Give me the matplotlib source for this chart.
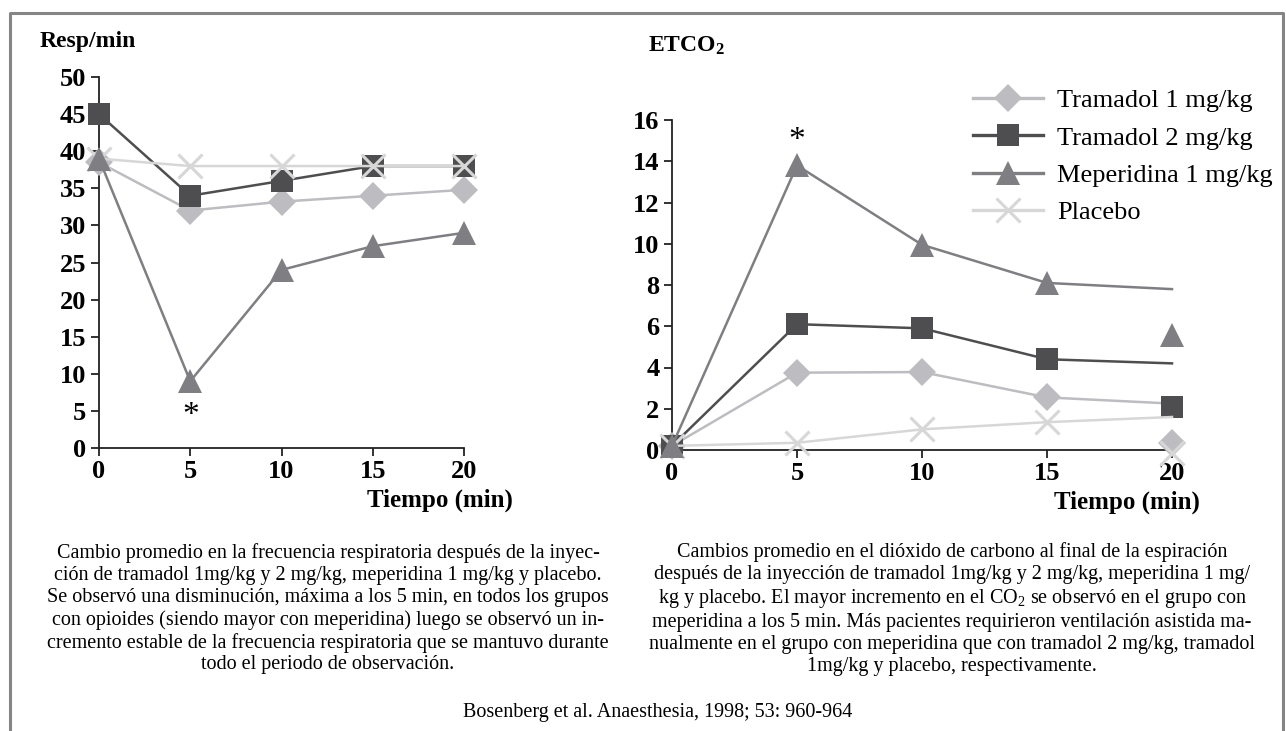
import matplotlib
matplotlib.use("Agg")
import matplotlib.pyplot as plt
from matplotlib.lines import Line2D

plt.rcParams['font.family'] = ['Liberation Serif', 'DejaVu Serif']
plt.rcParams['mathtext.fontset'] = 'custom'
plt.rcParams['mathtext.rm'] = 'Liberation Serif'
plt.rcParams['mathtext.bf'] = 'Liberation Serif:bold'
plt.rcParams['mathtext.it'] = 'Liberation Serif:italic'

# ---------------- data ----------------
tiempo = [0, 5, 10, 15, 20]
x_ticks = [0, 5, 10, 15, 20]
series = ["Tramadol 1 mg/kg", "Tramadol 2 mg/kg", "Meperidina 1 mg/kg", "Placebo"]

# Respiratory rate (Resp/min)
resp_tram1 = [38.5, 32, 33.2, 34, 34.8]
resp_tram2 = [45, 34, 36, 38, 38]
resp_mep = [39, 9, 24, 27.2, 29]
resp_placebo = [39, 38, 38, 38, 38]
resp_yticks = [0, 5, 10, 15, 20, 25, 30, 35, 40, 45, 50]

# ETCO2 (lines) and the separate markers drawn at 20 min
etco_tram1 = [0.2, 3.75, 3.78, 2.55, 2.25]
etco_tram2 = [0.2, 6.1, 5.9, 4.4, 4.2]
etco_mep = [0.2, 13.8, 9.95, 8.1, 7.8]
etco_placebo = [0.2, 0.35, 1.0, 1.35, 1.6]
etco_end_markers = [0.35, 2.1, 5.6, -0.15]   # tram1, tram2, mep, placebo at t=20
etco_yticks = [0, 2, 4, 6, 8, 10, 12, 14, 16]

caption_left = ("Cambio promedio en la frecuencia respiratoria después de la inyec-\n"
                "ción de tramadol 1mg/kg y 2 mg/kg, meperidina 1 mg/kg y placebo.\n"
                "Se observó una disminución, máxima a los 5 min, en todos los grupos\n"
                "con opioides (siendo mayor con meperidina) luego se observó un in-\n"
                "cremento estable de la frecuencia respiratoria que se mantuvo durante\n"
                "todo el periodo de observación.")
caption_right = ("Cambios promedio en el dióxido de carbono al final de la espiración\n"
                 "después de la inyección de tramadol 1mg/kg y 2 mg/kg, meperidina 1 mg/\n"
                 "kg y placebo. El mayor incremento en el CO$_2$ se observó en el grupo con\n"
                 "meperidina a los 5 min. Más pacientes requirieron ventilación asistida ma-\n"
                 "nualmente en el grupo con meperidina que con tramadol 2 mg/kg, tramadol\n"
                 "1mg/kg y placebo, respectivamente.")
source = "Bosenberg et al. Anaesthesia, 1998; 53: 960-964"

# ---------------- styles ----------------
c_t1 = "#bdbdc1"
c_t2 = "#4e4e50"
c_mep = "#7f7f83"
c_pl = "#d7d7d7"
styles = [
    dict(color=c_t1, marker="D", ms=14, zorder=3),
    dict(color=c_t2, marker="s", ms=16, zorder=4),
    dict(color=c_mep, marker="^", ms=17, zorder=6),
    dict(color=c_pl, marker="x", ms=17, zorder=5),
]
LW = 1.8

W, H = 1286, 731
fig = plt.figure(figsize=(W / 100, H / 100), dpi=100)

def fx(px):
    return px / W

def fy(py):
    return 1 - py / H

# outer frame (open at bottom)
fig.add_artist(Line2D([fx(10), fx(10), fx(1283), fx(1283)],
                      [fy(731), fy(13), fy(13), fy(731)],
                      color="#858585", lw=2.2, transform=fig.transFigure))

def style_axes(ax, yticks, ylim):
    ax.set_xlim(0, 20)
    ax.set_ylim(*ylim)
    ax.set_xticks(x_ticks)
    ax.set_yticks(yticks)
    for s in ["top", "right"]:
        ax.spines[s].set_visible(False)
    for s in ["left", "bottom"]:
        ax.spines[s].set_linewidth(1.3)
        ax.spines[s].set_color("#222222")
    ax.tick_params(direction="out", length=6, width=1.3, color="#222222",
                   labelsize=19, pad=3)
    for lab in ax.get_xticklabels() + ax.get_yticklabels():
        lab.set_fontweight("bold")
    ax.patch.set_alpha(0)

# ---------------- left chart ----------------
ax1 = fig.add_axes([fx(99), fy(448), fx(464) - fx(99), fy(77) - fy(448)])
style_axes(ax1, resp_yticks, (0, 50))
for vals, st in zip([resp_tram1, resp_tram2, resp_mep, resp_placebo], styles):
    mew = 2.2 if st["marker"] == "x" else 0
    ax1.plot(tiempo, vals, color=st["color"], lw=LW, marker=st["marker"],
             ms=st["ms"], mew=mew, mec=st["color"], mfc=st["color"],
             zorder=st["zorder"], clip_on=False)
ax1.text(5, 4.4, "*", fontsize=24, ha="center", va="center")
fig.text(fx(40), fy(42), "Resp/min", fontsize=17, fontweight="bold",
         ha="left", va="center")
fig.text(fx(513), fy(500), "Tiempo (min)", fontsize=18, fontweight="bold",
         ha="right", va="center")

# ---------------- right chart ----------------
ax2 = fig.add_axes([fx(672), fy(450), fx(1172) - fx(672), fy(120) - fy(450)])
style_axes(ax2, etco_yticks, (0, 16))
handles = []
for vals, endv, st, name in zip([etco_tram1, etco_tram2, etco_mep, etco_placebo],
                                etco_end_markers, styles, series):
    mew = 2.2 if st["marker"] == "x" else 0
    ax2.plot(tiempo, vals, color=st["color"], lw=LW, zorder=st["zorder"],
             clip_on=False)
    ax2.plot(tiempo[:-1], vals[:-1], ls="none", marker=st["marker"], ms=st["ms"],
             mew=mew, mec=st["color"], mfc=st["color"], zorder=st["zorder"],
             clip_on=False)
    ax2.plot([tiempo[-1]], [endv], ls="none", marker=st["marker"], ms=st["ms"],
             mew=mew, mec=st["color"], mfc=st["color"], zorder=st["zorder"],
             clip_on=False)
    handles.append(Line2D([], [], color=st["color"], lw=2.4, marker=st["marker"],
                          ms=st["ms"], mew=mew, mec=st["color"], mfc=st["color"],
                          label=name))
ax2.text(5, 15.0, "*", fontsize=24, ha="center", va="center")
fig.text(fx(648), fy(46), r"$\mathbf{ETCO}_\mathbf{2}$", fontsize=17,
         ha="left", va="center")
fig.text(fx(1200), fy(502), "Tiempo (min)", fontsize=18, fontweight="bold",
         ha="right", va="center")

fig.legend(handles=handles, loc="upper left",
           bbox_to_anchor=(fx(973), fy(89)), frameon=False,
           fontsize=19, handlelength=2.65, handletextpad=0.53,
           labelspacing=0.52, borderpad=0, borderaxespad=0)

# ---------------- captions ----------------
fig.text(fx(328), fy(609), caption_left, fontsize=14.5, ha="center", va="center",
         linespacing=1.2)
fig.text(fx(952), fy(609), caption_right, fontsize=14.5, ha="center", va="center",
         linespacing=1.2)
fig.text(fx(658), fy(712), source, fontsize=14.5, ha="center", va="center")

fig.savefig("out.png", dpi=100)
